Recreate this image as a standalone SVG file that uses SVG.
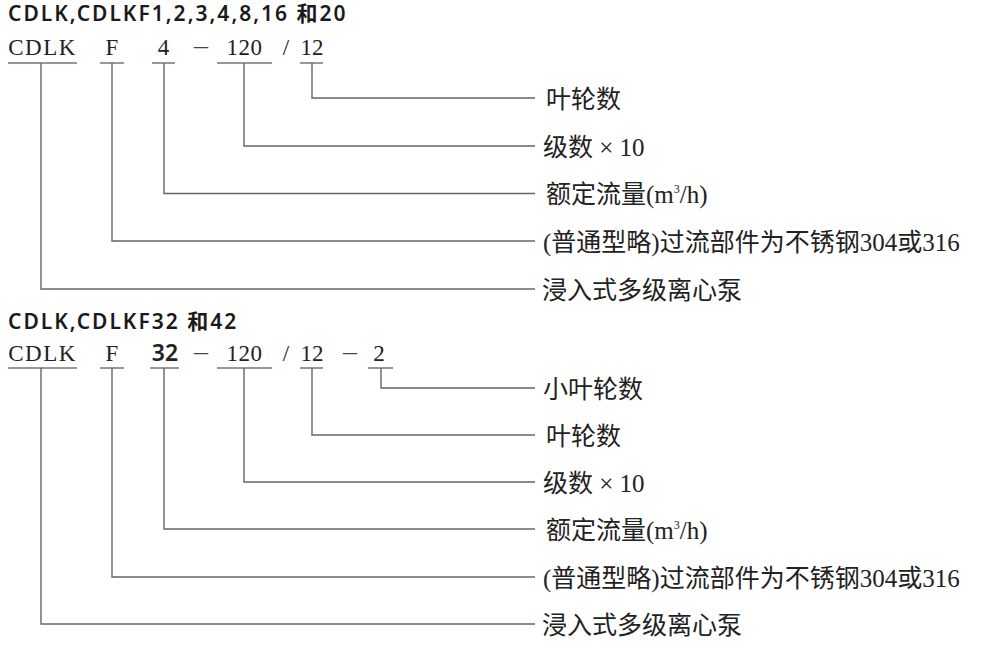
<svg xmlns="http://www.w3.org/2000/svg" width="1007" height="660" viewBox="0 0 1007 660">
<style>
.title{font-family:"Noto Sans","Noto Sans CJK SC",sans-serif;font-weight:600;font-size:21px;letter-spacing:2px;fill:#1a1a1a}
.code{font-family:"Liberation Serif","Noto Sans CJK SC",serif;font-size:23px;fill:#222;text-anchor:middle}
.dash{font-size:28px;fill:#444}
.bold{font-family:"Noto Sans",sans-serif;font-weight:600;font-size:23px}
.lbl{font-family:"Liberation Serif","Noto Sans CJK SC",serif;font-size:25px;fill:#222}
.ul{stroke:#777;stroke-width:1.3;fill:none}
.ln{stroke:#666;stroke-width:1.4;fill:none}
</style>
<rect width="1007" height="660" fill="#fff"/>

<g id="section1">
<text class="title" x="8" y="21">CDLK,CDLKF1,2,3,4,8,16 和20</text>
<g id="code1">
<text class="code" x="42.5" y="55" letter-spacing="1.5">CDLK</text>
<text class="code" x="112" y="55">F</text>
<text class="code" x="163.5" y="55">4</text>
<text class="code dash" x="201" y="54">–</text>
<text class="code" x="244.5" y="55" letter-spacing="0.5">120</text>
<text class="code" x="286" y="55">/</text>
<text class="code" x="312" y="55">12</text>
<path class="ul" d="M8 63H77M100 63H124M152 63H175M217 63H272M300 63H323"/>
</g>
<g id="labels1">
<text class="lbl" x="546" y="108">叶轮数</text>
<text class="lbl" x="543" y="156">级数 × 10</text>
<text class="lbl" x="546" y="203">额定流量(m<tspan font-size="12" dy="-10">3</tspan><tspan dy="10">/h)</tspan></text>
<text class="lbl" x="543" y="251">(普通型略)过流部件为不锈钢304或316</text>
<text class="lbl" x="542" y="299">浸入式多级离心泵</text>
</g>
</g>

<g id="section2">
<text class="title" x="8" y="329">CDLK,CDLKF32 和42</text>
<g id="code2">
<text class="code" x="42.5" y="361" letter-spacing="1.5">CDLK</text>
<text class="code" x="112" y="361">F</text>
<text class="code bold" x="165" y="361">32</text>
<text class="code dash" x="201" y="360">–</text>
<text class="code" x="244.5" y="361" letter-spacing="0.5">120</text>
<text class="code" x="286" y="361">/</text>
<text class="code" x="312" y="361">12</text>
<text class="code dash" x="350" y="360">–</text>
<text class="code" x="379" y="361">2</text>
<path class="ul" d="M8 368H77M100 368H124M150 368H179M217 368H272M300 368H323M368 368H393"/>
</g>
<g id="labels2">
<text class="lbl" x="543" y="398">小叶轮数</text>
<text class="lbl" x="546" y="445">叶轮数</text>
<text class="lbl" x="543" y="492">级数 × 10</text>
<text class="lbl" x="546" y="539">额定流量(m<tspan font-size="12" dy="-10">3</tspan><tspan dy="10">/h)</tspan></text>
<text class="lbl" x="543" y="587">(普通型略)过流部件为不锈钢304或316</text>
<text class="lbl" x="542" y="634">浸入式多级离心泵</text>
</g>
</g>

<g id="connectors">
<path class="ln" d="M312 63V98H535"/>
<path class="ln" d="M244 63V146H535"/>
<path class="ln" d="M164 63V193.5H535"/>
<path class="ln" d="M112 63V241H535"/>
<path class="ln" d="M41 63V289H535"/>
<path class="ln" d="M381 368V388H535"/>
<path class="ln" d="M312 368V435H535"/>
<path class="ln" d="M244 368V482H535"/>
<path class="ln" d="M164 368V529H535"/>
<path class="ln" d="M112 368V577H535"/>
<path class="ln" d="M41 368V624H535"/>
</g>
</svg>
